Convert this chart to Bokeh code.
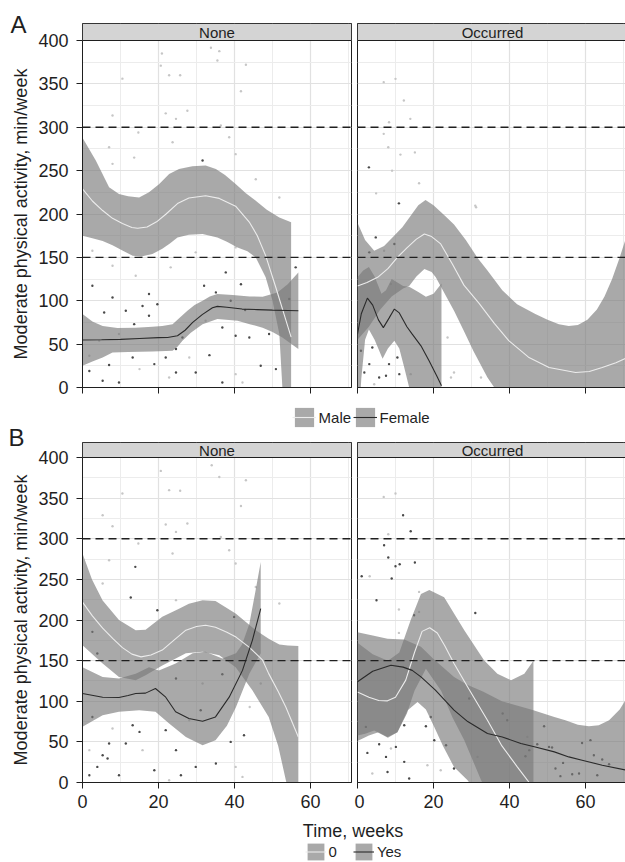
import math
from bokeh.plotting import figure
from bokeh.models import Range1d, FixedTicker, Span, Label, Legend, LegendItem, BoxAnnotation
from bokeh.layouts import column, row
from bokeh.embed import file_html
from bokeh.resources import INLINE

# ---------------- data ----------------
FACETS = ["None", "Occurred"]
X_MAJOR = [0, 20, 40, 60]
X_MINOR = [10, 30, 50, 70]
Y_MAJOR = [0, 50, 100, 150, 200, 250, 300, 350, 400]
Y_MINOR = [25, 75, 125, 175, 225, 275, 325, 375]
Y_MAX = 400
THRESHOLDS = [150, 300]
Y_TITLE = "Moderate physical activity, min/week"
X_TITLE = "Time, weeks"
LEGEND_A = ["Male", "Female"]
LEGEND_B = ["0", "Yes"]
PANEL_LETTERS = ["A", "B"]

# ---- Panel A, facet None ----
AN_M_X = [0, 2.6, 5.3, 7.9, 10.5, 13, 14.5, 17, 19.5, 22, 25, 28, 32.4, 36, 40.3, 44, 46, 48.2, 50.9, 53.5, 54.9]
AN_M_Y = [229, 215, 204, 195, 189, 184.5, 183.5, 185, 191, 200, 212, 218.5, 221, 218, 209, 190, 175, 152, 115, 78, 58]
AN_M_UP_X = [0, 3.5, 7, 9.6, 12, 14.9, 17.5, 20.2, 22.8, 25.4, 28.9, 32.4, 35.1, 37.5, 40.3, 43, 45.6, 48.5, 51.8, 54.9]
AN_M_UP_Y = [288, 261.6, 230.8, 223, 220.5, 219, 225, 234.6, 246, 252, 255, 255.8, 252, 245, 234.6, 224, 215.4, 205, 196, 190.4]
AN_M_LO_X = [0, 2.6, 5.3, 7.9, 10.5, 13.2, 15.5, 18.4, 21, 23, 25, 28, 31.6, 35.5, 38, 40.8, 43.4, 45.6, 48.2, 50, 51.8, 52.6, 54.9]
AN_M_LO_Y = [175, 172, 169, 164, 158, 152, 151, 154, 160, 166, 173, 176, 177, 173, 168, 161.5, 157, 150, 127, 100, 61.6, 0, -60]
AN_F_X = [0, 5, 10, 15, 20, 22.4, 25, 27, 29, 31.5, 34.2, 35.5, 38, 42, 46, 50, 54, 56.8]
AN_F_Y = [54.7, 55, 55.5, 56.5, 57.5, 57.7, 59.6, 66, 75, 84, 92, 93.5, 92.5, 90.4, 89.8, 89.2, 88.8, 88.5]
AN_F_UP_X = [0, 2.6, 5.3, 9.2, 14, 18.4, 21, 23.7, 25.5, 27.6, 29.5, 31.6, 33.5, 35.5, 39.5, 44, 47.4, 51.3, 54, 56.8]
AN_F_UP_Y = [84.6, 76, 71, 68.5, 69, 70, 71, 73, 80, 88.5, 95, 100, 105, 107.7, 106.6, 105, 104.6, 109.6, 119, 132.7]
AN_F_LO_X = [0, 2.6, 5.3, 7.9, 12, 18.4, 23.7, 25, 26.3, 28.5, 31.6, 35.5, 40.8, 44, 47.4, 50, 52.6, 56.8]
AN_F_LO_Y = [25, 30, 34.6, 40.4, 41, 41.5, 42.3, 47, 54, 63, 73, 79, 77, 73, 69, 64, 57.7, 44.3]
AN_M_PX = [20.9, 33.8, 36, 35.5, 43, 20.6, 10.5, 22.8, 25.7, 41.7, 27.6, 21.9, 7.9, 24.6, 36.4, 14.7, 23.7, 13.6, 7, 7.9,
           40.3, 38.6, 45.6, 51.8, 2.6, 7.9, 14, 1.8, 4.4, 9.6, 15, 28.1, 40.3, 42.1, 23.2, 29.8, 40.3, 22.8, 32.4]
AN_M_PY = [385, 391.6, 387.7, 377, 372, 371, 356, 360, 360, 341.5, 319, 316, 313.5, 309.7, 302, 294, 282.7, 265, 277, 257.8,
           269, 288.5, 240, 219, 157.7, 140.4, 128.9, 36.6, 53.8, 61.6, 21.2, 34.6, 15.4, 5.8, 138.5, 155.8, 161.5, 11.5, 77]
AN_F_PX = [31.6, 2.6, 7.9, 5.7, 13.6, 17.5, 15.8, 19.7, 32, 35.1, 37.7, 41.7, 39, 42.8, 36.8, 43.9, 46.9, 26.3, 21.9,
           24.6, 29.8, 36.8, 5.3, 9.6, 7, 13.2, 18.9, 1.8, 33.4, 40.3, 24.6, 17.5, 11.4, 56.1, 54.4, 49.1, 50.9]
AN_F_PY = [261.6, 117.3, 103.8, 86.5, 73, 107.8, 94, 96, 117.3, 109.6, 132.7, 119, 100, 89.3, 69.2, 57.7, 25, 57.7, 34.6,
           17.3, 17.3, 5.8, 7.7, 5.8, 26, 34.6, 27, 19, 37.3, 59.6, 44.3, 82.7, 88.5, 138.5, 102, 61.6, 21.2]

# ---- Panel A, facet Occurred ----
AO_M_X = [0, 2.5, 5.3, 8, 10.5, 13, 15.5, 17.6, 19.5, 21.9, 25, 28, 32, 36, 39.8, 45, 50.4, 57.4, 61, 64.4, 68, 71]
AO_M_Y = [117, 121, 127, 137, 150, 161, 171, 177, 174, 165.5, 142, 118, 97, 74, 54, 35, 23, 17.3, 18.5, 23, 28.5, 34.6]
AO_M_UP_X = [0, 2, 4.4, 7, 9, 11.8, 14, 16, 17.9, 20, 23, 25.4, 28.5, 31.5, 34.2, 38.1, 42, 46.8, 50, 53, 55.6, 58,
             60.5, 63, 65, 67, 69, 71]
AO_M_UP_Y = [190, 170, 157.7, 163, 172, 184.6, 198, 210, 216, 210, 198, 188, 170, 150, 135, 112, 96, 84.7, 78, 73, 71, 72,
             78, 90, 105, 125, 150, 177]
AO_M_LO_X = [0, 3, 6, 9, 12, 13.6, 15.5, 17.6, 19.5, 20.6, 22.1, 25.4, 28, 30.5, 34.2, 36, 40, 50, 57, 64, 71]
AO_M_LO_Y = [55, 70, 90, 105, 114, 117, 128, 136.6, 133, 127, 115, 88.5, 65, 42, 11.5, 0, -30, -60, -70, -55, -40]
AO_F_X = [0, 1, 2.6, 4, 5.5, 6.8, 8.3, 9.7, 11, 13, 14.4, 16.7, 18.8, 21, 22.1]
AO_F_Y = [61.6, 85, 103, 95, 78, 69, 80, 90.4, 86, 70, 61.5, 48, 31, 12, 2]
AO_F_UP_X = [0, 1.5, 3, 4.5, 6.3, 7.5, 9, 10.5, 12, 13.6, 16, 18, 20, 22.1]
AO_F_UP_Y = [127, 135, 139, 128, 108, 112, 125, 121, 117, 116, 110, 104.6, 108, 120]
AO_F_LO_X = [0, 1, 2, 3, 4.5, 6.6, 8, 9.7, 11, 12.3, 13.6, 16, 19, 22.1]
AO_F_LO_Y = [-60, 10, 55, 67, 55, 33, 45, 54, 45, 23, 0, -30, -50, -60]
AO_M_PX = [6.9, 10, 12.2, 13.9, 6.9, 8.1, 11.3, 15.1, 16.2, 4.9, 9.1, 31, 8.3, 8.8, 7, 23.7, 25.4, 24.6, 32.5, 31.2, 14, 4.4]
AO_M_PY = [352, 355.8, 330.8, 309.7, 292.4, 277, 268.5, 271, 235.4, 223.8, 250, 209.6, 305.8, 119.3, 157.7, 57.7, 17.3,
           11.5, 11.5, 207.7, 15.4, 3.8]
AO_F_PX = [3, 10.9, 4.8, 3.1, 0.9, 3.9, 1.8, 5.7, 8.3, 7.5, 10.5, 9.7, 11, 3.1]
AO_F_PY = [253.8, 212.3, 173, 155.8, 42.3, 46.1, 17.3, 11.5, 27, 13.5, 34.6, 165.5, 15.4, 27]

# ---- Panel B, facet None ----
BN_M_X = [0, 2.6, 5.3, 8, 10.5, 13, 15.4, 18, 21, 24, 27.2, 30, 32.4, 35, 38, 40.4, 44, 47.4, 49, 51.5, 53.5, 56.8]
BN_M_Y = [222, 205, 190, 177, 166, 158, 154.6, 157, 163, 175, 187.5, 192, 193.6, 191, 185, 179, 166, 150.5, 134, 112, 93, 56]
BN_M_UP_X = [0, 2.5, 5.3, 9.6, 14, 16.6, 21, 25.4, 28, 31.6, 35, 40.3, 45.6, 49, 51.8, 54, 56.8]
BN_M_UP_Y = [282, 250, 224, 200, 187.5, 188, 204, 214, 220, 224.4, 223.5, 208, 187.5, 177, 170, 168.5, 168]
BN_M_LO_X = [0, 5.3, 9.6, 14, 16.6, 21, 27.2, 31.6, 36, 40.3, 44.7, 49, 51.5, 53.5, 56.8]
BN_M_LO_Y = [169, 146.5, 130, 126, 132, 144, 159, 161, 156.6, 142, 113.6, 80.7, 45, 3, -60]
BN_F_X = [0, 5.3, 9.6, 12, 14, 16.6, 19.2, 21.9, 24.5, 28, 31.6, 35, 38.6, 42.1, 44.7, 46.9]
BN_F_Y = [109.5, 105, 104.6, 107, 109.5, 110, 115.7, 105, 87, 78.8, 75.4, 80.7, 105, 138, 175, 214]
BN_F_UP_X = [0, 5.3, 9.6, 14, 17.5, 20.1, 24.5, 29, 32.4, 36.8, 40.4, 42, 43.9, 45.5, 46.9]
BN_F_UP_Y = [142, 130, 128, 134, 142, 138, 146.5, 159, 161, 152.6, 159, 170, 195, 235, 271.5]
BN_F_LO_X = [0, 5.3, 9.6, 14.9, 19.2, 22.8, 27.2, 31.6, 35, 38, 40.4, 43.9, 46.9]
BN_F_LO_Y = [68.5, 82.8, 87, 89, 87, 72.6, 56, 46, 52, 70, 93, 134, 159]
BN_M_PX = [20.6, 34, 36, 43, 10.5, 22.8, 25.7, 41.7, 27.6, 21.9, 7.9, 24.6, 36.4, 14.7, 23.7, 7, 40.3, 38.6, 45.6, 51.8,
           5.3, 24.6, 5.3, 7.9, 15.8, 40.3, 42.1, 22.8, 44, 46.9, 31.6, 1.8, 28.1]
BN_M_PY = [383.5, 390.5, 376, 372, 355.7, 359.8, 359, 340.4, 318.8, 317.5, 315.4, 308.4, 302.3, 294.2, 281.8, 273.6, 269.5,
           285.9, 240.7, 220.3, 245, 224.4, 329, 66.5, 39.8, 19.2, 6.9, 2.8, 93, 121.8, 121.8, 39.8, 76.7]
BN_F_PX = [13.9, 12.7, 19.7, 39.9, 2.6, 3.9, 2.6, 5.3, 1.8, 6.6, 13.2, 15, 21.9, 24.6, 29.8, 25.9, 35.1, 31.1, 36.8, 24.6,
           7, 11.4, 18.9, 3.9, 42.5, 39, 9.6]
BN_F_PY = [265.4, 227.7, 212, 203.8, 185.4, 158.8, 80.7, 33.6, 9, 29.5, 70.5, 62.3, 64.4, 39.8, 19.2, 9, 23.4, 89, 133.3,
           128, 48, 48, 15.1, 19.2, 58.2, 50, 9]

# ---- Panel B, facet Occurred ----
BO_M_X = [0, 3, 5.6, 7.9, 10, 12.7, 15, 17, 19, 21, 23, 25.4, 29.3, 34.2, 38, 42.1, 44.7, 46.3]
BO_M_Y = [111.5, 105, 101, 100.5, 105, 126, 160, 186, 190.5, 184, 168, 146.5, 115, 76.7, 45, 19, 3, -8]
BO_M_UP_X = [0, 4, 8, 11, 14, 16.7, 18.9, 22.8, 28.1, 33.3, 36.8, 40.4, 43.9, 46.3]
BO_M_UP_Y = [172, 158, 150, 160, 200, 232, 237, 228, 187.5, 150.5, 134, 126, 134, 150]
BO_M_LO_X = [0, 3, 5.5, 7.9, 10.5, 13, 15, 18, 22, 25, 28.1, 32.5, 36, 40, 46.3]
BO_M_LO_Y = [51, 58, 62, 56, 62, 85, 113, 140, 113, 80, 52, 3, -30, -60, -110]
BO_F_X = [0, 4, 8.8, 12, 14.4, 16.7, 20.5, 25.4, 29, 34.2, 38.1, 43, 46.8, 51.8, 55.6, 59.1, 64.4, 71]
BO_F_Y = [124, 137, 144.4, 142, 138, 130, 113.6, 89, 75, 60.3, 56, 48, 43.8, 37.7, 31.5, 27.4, 21.3, 15]
BO_F_UP_X = [0, 4, 7.9, 12.3, 16.7, 20, 25.4, 29, 33, 38, 44.7, 46.3, 51.8, 54.7, 58, 60.9, 63.5, 66.2, 69, 71]
BO_F_UP_Y = [185, 181, 177, 176, 167, 152, 130, 120, 112, 100, 91, 89, 80.7, 76.7, 71, 69.3, 70.5, 76.7, 90, 105]
BO_F_LO_X = [0, 2, 4.4, 8, 10.5, 13.2, 15.8, 18, 20.2, 22.5, 25.4, 28.9, 32, 36, 45, 55, 65, 71]
BO_F_LO_Y = [58, 60, 64, 55, 62, 89, 99, 90, 68.4, 45, 19, 3, -15, -30, -40, -45, -50, -60]
BO_M_PX = [6.9, 10, 3.2, 8.1, 16.2, 10.9, 10.9, 16.2, 18.4, 3.9, 8.8, 21.9, 31.6, 44.7]
BO_M_PY = [351.5, 355.7, 253.9, 305.6, 234.6, 212.9, 184.1, 210, 21.3, 11.1, 41.8, 15.1, 31.5, 56.1]
BO_F_PX = [12, 14, 7, 8.1, 10, 11.1, 15.1, 9, 1.1, 5, 31, 14.9, 12.3, 18, 2.2, 5.7, 10.1, 2.6, 7.5, 12.3, 7.9, 13.6,
           23.3, 20.2, 25.4, 19.3, 38.2, 29.4, 45.2, 49.1, 47.3, 51.2, 59.1, 62.2, 64.4, 66.2, 52.1, 53.4, 56.5, 58.3,
           63.1, 54.1, 61.3, 50.4, 44.2, 39.4]
BO_F_PY = [329, 309.3, 292, 276.9, 266.2, 268.7, 270.8, 251, 253.9, 224.4, 208.7, 205.9, 70.5, 69.3, 68.4, 47.1, 43.8,
           36.4, 31.5, 25.4, 13, 4.9, 45.9, 52, 17.2, 80.7, 84.9, 103.4, 39.8, 69.3, 47.1, 43.1, 48.7, 33.6, 28.3, 22.5,
           17.2, 7.8, 10.2, 11.1, 9, 24.1, 52.1, 43.8, 32.4, 76.7]

# ---------------- styles ----------------
FONT = "Liberation Sans"
TEXT = "#1f1f1f"
BAND = "#787879"
BAND_ALPHA = 0.64
M_LINE = "#ececec"
F_LINE = "#2a2a2a"
M_PT = "#c6c6c6"
F_PT = "#4a4a4a"
STRIP_FILL = "#d4d4d4"
GRID_MAJOR = "#e1e1e1"
GRID_MINOR = "#ececec"
PX_PER_WEEK = 3.8
NAN = float("nan")
MARGIN_W = 35
TOTAL_W = 625


def make_facet(name, plot_h, strip_h, frame_w, with_y, tick_labels, top, bottom, groups):
    y_top = Y_MAX * (plot_h + strip_h) / plot_h
    x_end = frame_w / PX_PER_WEEK
    p = figure(frame_width=frame_w, frame_height=plot_h + strip_h,
               x_range=Range1d(0, x_end), y_range=Range1d(0, y_top),
               min_border_left=45 if with_y else 3, min_border_right=3 if with_y else 0,
               min_border_top=top, min_border_bottom=bottom,
               x_axis_location="below", y_axis_location="left" if with_y else None,
               output_backend="svg", toolbar_location=None,
               background_fill_color="white", border_fill_color="white",
               outline_line_color=TEXT, outline_line_width=1)
    p.xgrid.ticker = FixedTicker(ticks=X_MAJOR, minor_ticks=X_MINOR)
    p.ygrid.ticker = FixedTicker(ticks=Y_MAJOR, minor_ticks=Y_MINOR)
    p.grid.grid_line_color = GRID_MAJOR
    p.grid.grid_line_width = 1.2
    p.grid.minor_grid_line_color = GRID_MINOR
    p.grid.minor_grid_line_width = 1

    xa = p.xaxis[0]
    xa.ticker = FixedTicker(ticks=X_MAJOR, minor_ticks=X_MINOR)
    xa.axis_line_color = TEXT
    xa.major_tick_line_color = TEXT
    xa.major_tick_out = 6
    xa.major_tick_in = 0
    xa.minor_tick_out = 0
    xa.minor_tick_in = 0
    if tick_labels:
        xa.major_label_text_font = FONT
        xa.major_label_text_font_size = "18px"
        xa.major_label_text_color = TEXT
        xa.major_label_standoff = 6
    else:
        xa.major_label_overrides = {t: "" for t in X_MAJOR}
        xa.major_label_text_font_size = "1px"
        xa.major_label_text_color = None
        xa.major_label_standoff = 0
    if with_y:
        ya = p.yaxis[0]
        ya.ticker = FixedTicker(ticks=Y_MAJOR, minor_ticks=Y_MINOR)
        ya.bounds = (0, Y_MAX)
        ya.axis_line_color = TEXT
        ya.major_tick_line_color = TEXT
        ya.major_tick_out = 6
        ya.major_tick_in = 0
        ya.minor_tick_out = 0
        ya.minor_tick_in = 0
        ya.major_label_text_font = FONT
        ya.major_label_text_font_size = "18px"
        ya.major_label_text_color = TEXT
        ya.major_label_standoff = 8

    for g in groups:
        p.scatter(g["px"], g["py"], size=2.4, color=g["pc"], line_color=None)
    for g in groups:
        p.patch(g["ux"] + g["lx"][::-1], g["uy"] + g["ly"][::-1],
                fill_color=BAND, fill_alpha=BAND_ALPHA, line_color=None)
    for g in groups:
        p.line(g["x"], g["y"], line_color=g["lc"], line_width=1.1)

    for v in THRESHOLDS:
        p.add_layout(Span(location=v, dimension="width", line_color=TEXT,
                          line_width=1.3, line_dash="8 5"))
    p.add_layout(BoxAnnotation(left=0, right=x_end, bottom=Y_MAX, top=y_top,
                               fill_color=STRIP_FILL, fill_alpha=1,
                               line_color=TEXT, line_alpha=1, line_width=1))
    p.add_layout(Label(x=x_end / 2, y=(Y_MAX + y_top) / 2, text=name,
                       text_align="center", text_baseline="middle",
                       text_font=FONT, text_font_size="15px", text_color=TEXT))
    return p


def grp(px, py, pc, ux, uy, lx, ly, x, y, lc):
    return dict(px=px, py=py, pc=pc, ux=ux, uy=uy, lx=lx, ly=ly, x=x, y=y, lc=lc)


A_PLOT_H, A_STRIP_H = 347, 17
B_PLOT_H, B_STRIP_H = 325, 15

a_none = make_facet(FACETS[0], A_PLOT_H, A_STRIP_H, 269, True, False, 23, 10, [
    grp(AN_M_PX, AN_M_PY, M_PT, AN_M_UP_X, AN_M_UP_Y, AN_M_LO_X, AN_M_LO_Y, AN_M_X, AN_M_Y, M_LINE),
    grp(AN_F_PX, AN_F_PY, F_PT, AN_F_UP_X, AN_F_UP_Y, AN_F_LO_X, AN_F_LO_Y, AN_F_X, AN_F_Y, F_LINE)])
a_occ = make_facet(FACETS[1], A_PLOT_H, A_STRIP_H, 270, False, False, 23, 10, [
    grp(AO_M_PX, AO_M_PY, M_PT, AO_M_UP_X, AO_M_UP_Y, AO_M_LO_X, AO_M_LO_Y, AO_M_X, AO_M_Y, M_LINE),
    grp(AO_F_PX, AO_F_PY, F_PT, AO_F_UP_X, AO_F_UP_Y, AO_F_LO_X, AO_F_LO_Y, AO_F_X, AO_F_Y, F_LINE)])
b_none = make_facet(FACETS[0], B_PLOT_H, B_STRIP_H, 269, True, True, 13, 36, [
    grp(BN_M_PX, BN_M_PY, M_PT, BN_M_UP_X, BN_M_UP_Y, BN_M_LO_X, BN_M_LO_Y, BN_M_X, BN_M_Y, M_LINE),
    grp(BN_F_PX, BN_F_PY, F_PT, BN_F_UP_X, BN_F_UP_Y, BN_F_LO_X, BN_F_LO_Y, BN_F_X, BN_F_Y, F_LINE)])
b_occ = make_facet(FACETS[1], B_PLOT_H, B_STRIP_H, 270, False, True, 13, 36, [
    grp(BO_M_PX, BO_M_PY, M_PT, BO_M_UP_X, BO_M_UP_Y, BO_M_LO_X, BO_M_LO_Y, BO_M_X, BO_M_Y, M_LINE),
    grp(BO_F_PX, BO_F_PY, F_PT, BO_F_UP_X, BO_F_UP_Y, BO_F_LO_X, BO_F_LO_Y, BO_F_X, BO_F_Y, F_LINE)])


def blank_fig(w, h):
    f = figure(width=w, height=h, x_range=Range1d(0, w), y_range=Range1d(0, h),
               min_border_left=0, min_border_right=0, min_border_top=0, min_border_bottom=0,
               x_axis_location=None, y_axis_location=None, outline_line_color=None,
               background_fill_color="white", border_fill_color="white",
               output_backend="svg", toolbar_location=None)
    f.grid.visible = False
    return f


def add_legend(f, label, lc, loc, gsize):
    band = f.varea(x=[NAN], y1=[NAN], y2=[NAN], fill_color=BAND, fill_alpha=BAND_ALPHA)
    ln = f.line(x=[NAN], y=[NAN], line_color=lc, line_width=1.1)
    lg = Legend(items=[LegendItem(label=label, renderers=[band, ln])],
                location=loc, orientation="horizontal",
                glyph_width=gsize, glyph_height=gsize, label_height=gsize,
                label_text_font=FONT, label_text_font_size="15px", label_text_color=TEXT,
                label_standoff=3, padding=0, margin=0, spacing=0,
                border_line_color=None, background_fill_alpha=0)
    f.add_layout(lg, "center")


def margin_fig(h, letter, letter_x, letter_y, title_y):
    f = blank_fig(MARGIN_W, h)
    f.add_layout(Label(x=letter_x, y=letter_y, text=letter, text_font=FONT, text_font_size="24px",
                       text_color=TEXT, text_baseline="middle", text_align="left"))
    f.add_layout(Label(x=20, y=title_y, text=Y_TITLE, angle=math.pi / 2, text_font=FONT,
                       text_font_size="18px", text_color=TEXT,
                       text_align="center", text_baseline="middle"))
    return f


# left margin: panel letters and y-axis titles (page y: A letter ~23, titles centred on the plot areas)
MARGIN_A_H, MARGIN_B_H = 420, 442
margin_a = margin_fig(MARGIN_A_H, PANEL_LETTERS[0], 10, MARGIN_A_H - 23.5, MARGIN_A_H - 213.5)
margin_b = margin_fig(MARGIN_B_H, PANEL_LETTERS[1], 8, MARGIN_B_H - 17, MARGIN_B_H - 199.5)

RIGHT_W = TOTAL_W - MARGIN_W
mid = blank_fig(RIGHT_W, 32)
add_legend(mid, LEGEND_A[0], M_LINE, (291.6 - MARGIN_W, 0), 24)
add_legend(mid, LEGEND_A[1], F_LINE, (352.6 - MARGIN_W, 0), 24)

bot = blank_fig(RIGHT_W, 44)
bot.add_layout(Label(x=352.5 - MARGIN_W, y=32, text=X_TITLE, text_font=FONT, text_font_size="18px",
                     text_color=TEXT, text_align="center", text_baseline="middle"))
add_legend(bot, LEGEND_B[0], M_LINE, (304.6 - MARGIN_W, 0), 21)
add_legend(bot, LEGEND_B[1], F_LINE, (352.9 - MARGIN_W, 0), 21)

layout = row(column(margin_a, margin_b),
             column(row(a_none, a_occ), mid, row(b_none, b_occ), bot))

open("out.html", "w").write(file_html(layout, INLINE))
